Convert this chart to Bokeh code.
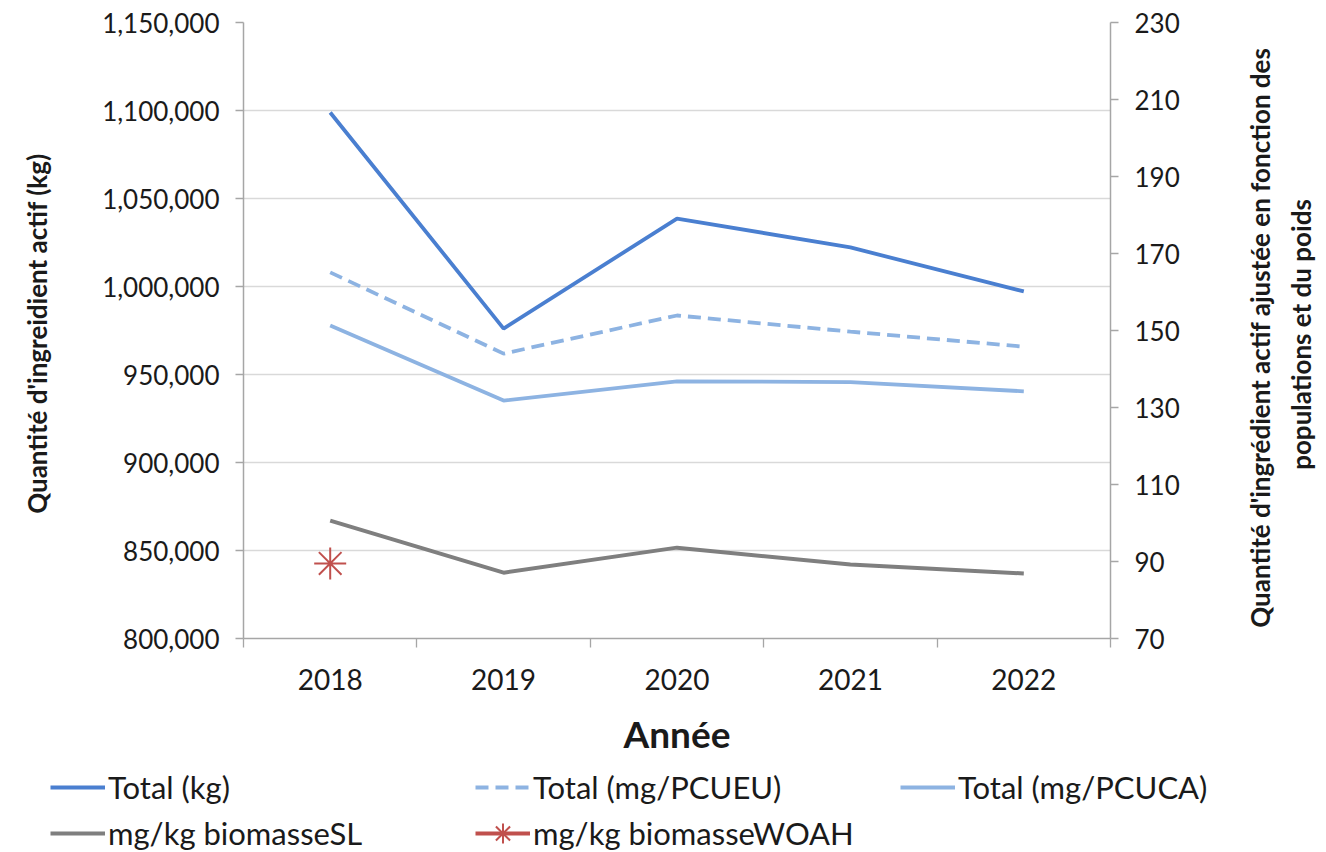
import math
from bokeh.plotting import figure
from bokeh.layouts import column, row
from bokeh.models import (Range1d, LinearAxis, FixedTicker, Legend, LegendItem, Label,
                          NumeralTickFormatter, CustomJSTickFormatter)
from bokeh.embed import file_html
from bokeh.resources import INLINE

# Data
years = ["2018", "2019", "2020", "2021", "2022"]
total_kg = [1098900, 976100, 1038600, 1022200, 997200]        # left axis (kg)
total_pcueu = [165.1, 144.0, 153.9, 149.7, 145.8]              # right axis
total_pcuca = [151.3, 131.8, 136.8, 136.6, 134.2]              # right axis
biomasse_sl = [100.6, 87.1, 93.6, 89.2, 86.9]                  # right axis
woah_years = ["2018"]
biomasse_woah = [89.5]                                         # right axis

left_ticks = [800000, 850000, 900000, 950000, 1000000, 1050000, 1100000, 1150000]
right_ticks = [70, 90, 110, 130, 150, 170, 190, 210, 230]

right_title = ("Quantité  d'ingrédient actif ajustée en fonction des\n"
               "populations et du poids")

FONT = "Lato"
TXT = "#1a1a1a"
AX = "#a6a6a6"
C_KG = "#4a7fd0"
C_LIGHT = "#8db3e2"
C_GREY = "#7f7f7f"
C_RED = "#c0504d"

# series styles shared by the chart and its legend strip
S_KG = dict(line_color=C_KG, line_width=3.8)
S_EU = dict(line_color=C_LIGHT, line_width=3.8, line_dash="13 7")
S_CA = dict(line_color=C_LIGHT, line_width=3.8)
S_SL = dict(line_color=C_GREY, line_width=4)
S_WL = dict(line_color=C_RED, line_width=3.8)

# categories sit at the centre of unit-wide slots
xpos = {y: i + 0.5 for i, y in enumerate(years)}
xs = [xpos[y] for y in years]
wx = [xpos[y] for y in woah_years]

p = figure(width=1230, height=760, output_backend="svg", toolbar_location=None,
           x_range=Range1d(0, len(years)), y_range=Range1d(800000, 1150000),
           min_border_left=243, min_border_right=120, min_border_top=22,
           min_border_bottom=122)
p.outline_line_color = None
p.background_fill_color = "white"
p.border_fill_color = "white"
p.extra_y_ranges = {"right": Range1d(70, 230)}

# grid
p.xgrid.visible = False
p.ygrid.ticker = FixedTicker(ticks=left_ticks)
p.ygrid.grid_line_color = "#d9d9d9"
p.ygrid.grid_line_width = 1.3

# x axis: labels at slot centres, tick marks at slot boundaries
xa = p.xaxis[0]
xa.ticker = FixedTicker(ticks=xs, minor_ticks=list(range(len(years) + 1)))
xa.formatter = CustomJSTickFormatter(args=dict(labels=years),
                                     code="return labels[Math.floor(tick)] || ''")
xa.major_tick_out = 0
xa.major_tick_in = 0
xa.minor_tick_out = 9
xa.minor_tick_in = 0
xa.minor_tick_line_color = AX
xa.minor_tick_line_width = 1.3
xa.axis_line_color = AX
xa.axis_line_width = 1.5
xa.major_label_text_font = FONT
xa.major_label_text_font_size = "28px"
xa.major_label_text_color = TXT
xa.major_label_standoff = 21
xa.axis_label = "Année"
xa.axis_label_text_font = FONT
xa.axis_label_text_font_size = "37px"
xa.axis_label_text_font_style = "bold"
xa.axis_label_text_color = TXT
xa.axis_label_standoff = 18

# left axis
ya = p.yaxis[0]
ya.ticker = FixedTicker(ticks=left_ticks)
ya.formatter = NumeralTickFormatter(format="0,0")
ya.major_tick_out = 8
ya.major_tick_in = 0
ya.minor_tick_out = 0
ya.minor_tick_in = 0
ya.major_tick_line_color = AX
ya.major_tick_line_width = 1.3
ya.axis_line_color = AX
ya.axis_line_width = 1.5
ya.major_label_text_font = FONT
ya.major_label_text_font_size = "26px"
ya.major_label_text_color = TXT
ya.major_label_standoff = 16
ya.axis_label = "Quantité  d'ingreidient actif (kg)"
ya.axis_label_text_font = FONT
ya.axis_label_text_font_size = "26px"
ya.axis_label_text_font_style = "bold"
ya.axis_label_text_color = TXT
ya.axis_label_standoff = 46

# right axis (its title is set in the strip to the right)
ra = LinearAxis(y_range_name="right", ticker=FixedTicker(ticks=right_ticks))
ra.major_tick_out = 8
ra.major_tick_in = 0
ra.minor_tick_out = 0
ra.minor_tick_in = 0
ra.major_tick_line_color = AX
ra.major_tick_line_width = 1.3
ra.axis_line_color = AX
ra.axis_line_width = 1.5
ra.major_label_text_font = FONT
ra.major_label_text_font_size = "26px"
ra.major_label_text_color = TXT
ra.major_label_standoff = 16
p.add_layout(ra, "right")

# series
p.line(xs, total_kg, **S_KG)
p.line(xs, total_pcueu, y_range_name="right", **S_EU)
p.line(xs, total_pcuca, y_range_name="right", **S_CA)
p.line(xs, biomasse_sl, y_range_name="right", **S_SL)
p.scatter(wx, biomasse_woah, marker="asterisk", size=32,
          line_color=C_RED, line_width=2, y_range_name="right")

# right-hand title strip, text reading bottom-to-top
tf = figure(width=96, height=760, output_backend="svg", toolbar_location=None,
            x_range=Range1d(0, 96), y_range=Range1d(0, 760),
            min_border_left=0, min_border_right=0,
            min_border_top=0, min_border_bottom=0)
tf.frame_align = False
tf.axis.visible = False
tf.grid.visible = False
tf.outline_line_color = None
tf.border_fill_color = "white"
tf.add_layout(Label(x=50, y=426, text=right_title, angle=math.pi / 2,
                    text_align="center", text_baseline="middle",
                    text_font=FONT, text_font_style="bold", text_font_size="26px",
                    text_line_height=1.3, text_color=TXT))

# legend strip under the chart; its ranges keep the series out of view so
# only the legend keys are drawn
lg = figure(width=1326, height=92, output_backend="svg", toolbar_location=None,
            x_range=Range1d(0, 1), y_range=Range1d(-2, -1),
            min_border_left=0, min_border_right=0,
            min_border_top=0, min_border_bottom=0)
lg.frame_align = False
lg.axis.visible = False
lg.grid.visible = False
lg.outline_line_color = None
lg.border_fill_color = "white"

k_kg = lg.line(xs, total_kg, **S_KG)
k_eu = lg.line(xs, total_pcueu, **S_EU)
k_ca = lg.line(xs, total_pcuca, **S_CA)
k_sl = lg.line(xs, biomasse_sl, **S_SL)
k_wl = lg.line(wx, biomasse_woah, **S_WL)
k_wm = lg.scatter(wx, biomasse_woah, marker="asterisk", size=22,
                  line_color=C_RED, line_width=2)

rows = [
    ([("Total (kg)", [k_kg]), ("Total (mg/PCUEU)", [k_eu]),
      ("Total (mg/PCUCA)", [k_ca])], (50, 46), 26),
    ([("mg/kg biomasseSL", [k_sl]), ("mg/kg biomasseWOAH", [k_wl, k_wm])], (50, -6), 50),
]
for items, loc, gh in rows:
    leg = Legend(items=[LegendItem(label=t, renderers=r) for t, r in items],
                 location=loc, orientation="horizontal", border_line_color=None,
                 background_fill_alpha=0, padding=0, margin=0, spacing=20,
                 glyph_width=55, glyph_height=gh, label_height=26, label_width=347,
                 label_standoff=3, label_text_font=FONT,
                 label_text_font_size="31px", label_text_color=TXT)
    lg.add_layout(leg)

open("out.html", "w").write(file_html(column(row(p, tf), lg), INLINE))
